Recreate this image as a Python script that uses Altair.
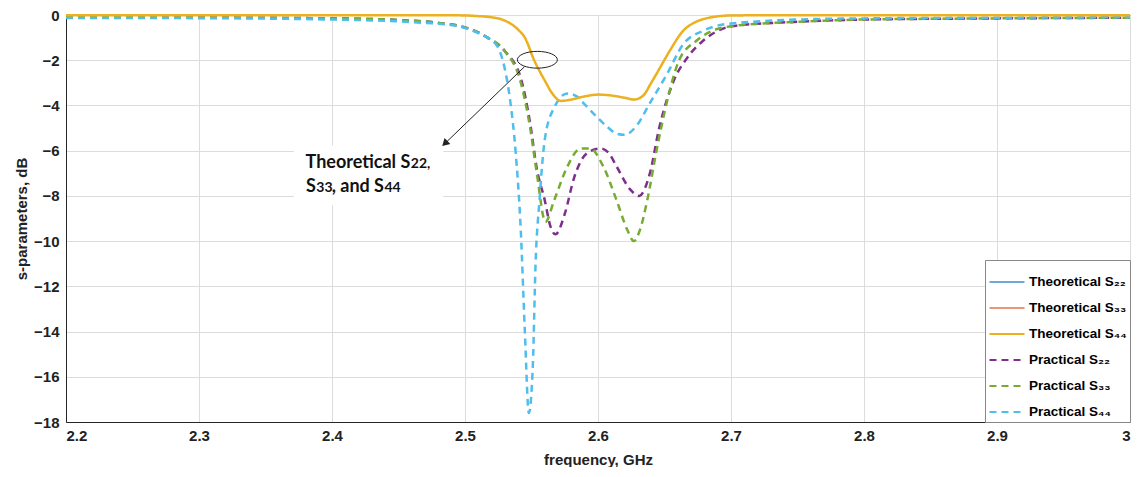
import altair as alt
import pandas as pd

# ---------------- data ----------------
theo_f = [2.2, 2.3, 2.4, 2.45, 2.48, 2.5, 2.51, 2.52, 2.53, 2.54, 2.545, 2.552, 2.56, 2.566,
          2.572, 2.579, 2.59, 2.6, 2.61, 2.62, 2.627, 2.634, 2.64, 2.644, 2.654, 2.664, 2.672,
          2.68, 2.69, 2.7, 2.75, 2.8, 2.9, 3.0]
theo_db = [-0.01, -0.01, -0.01, -0.01, -0.01, -0.02, -0.05, -0.1, -0.25, -0.65, -1.0, -2.0, -2.9, -3.5,
           -3.8, -3.75, -3.6, -3.52, -3.56, -3.66, -3.74, -3.56, -3.0, -2.6, -1.58, -0.7, -0.35,
           -0.17, -0.06, -0.02, -0.01, -0.01, -0.01, -0.01]

p44_f = [2.2, 2.3, 2.35, 2.4, 2.44, 2.47, 2.49, 2.5, 2.51, 2.517, 2.5245, 2.53, 2.534, 2.538, 2.542,
         2.545, 2.548, 2.551, 2.553, 2.556, 2.56, 2.567, 2.577, 2.584, 2.59, 2.599, 2.607, 2.614,
         2.62, 2.629, 2.639, 2.652, 2.664, 2.679, 2.694, 2.7, 2.75, 2.8, 2.9, 3.0]
p44_db = [-0.13, -0.14, -0.16, -0.2, -0.26, -0.35, -0.45, -0.57, -0.8, -1.0, -1.4, -2.4, -3.8, -6.0, -9.6,
          -14.0, -17.6, -15.5, -11.1, -8.2, -5.5, -4.1, -3.47, -3.6, -3.95, -4.5, -4.95, -5.25,
          -5.3, -4.9, -3.9, -2.6, -1.3, -0.7, -0.42, -0.38, -0.2, -0.15, -0.12, -0.1]

p22_f = [2.2, 2.3, 2.4, 2.45, 2.48, 2.5, 2.517, 2.53, 2.542, 2.549, 2.554, 2.56, 2.564, 2.568, 2.575,
         2.582, 2.592, 2.602, 2.608, 2.614, 2.624, 2.631, 2.639, 2.646, 2.657, 2.667, 2.679, 2.694,
         2.7, 2.75, 2.8, 2.9, 3.0]
p22_db = [-0.1, -0.11, -0.15, -0.22, -0.35, -0.55, -1.0, -1.6, -2.8, -4.8, -6.8, -8.2, -9.3, -9.7, -8.8,
          -7.2, -6.1, -5.9, -6.1, -6.7, -7.7, -8.0, -7.0, -5.0, -2.9, -1.9, -1.14, -0.6,
          -0.5, -0.3, -0.2, -0.15, -0.12]

p33_f = [2.2, 2.3, 2.4, 2.45, 2.48, 2.5, 2.517, 2.53, 2.542, 2.549, 2.554, 2.5605, 2.567, 2.577, 2.587,
         2.594, 2.604, 2.614, 2.622, 2.627, 2.631, 2.637, 2.644, 2.652, 2.661, 2.674, 2.689,
         2.7, 2.75, 2.8, 2.9, 3.0]
p33_db = [-0.1, -0.11, -0.15, -0.22, -0.35, -0.55, -1.0, -1.6, -3.0, -5.0, -7.0, -9.15, -8.2, -6.7, -5.9,
          -5.9, -6.7, -8.2, -9.5, -10.0, -9.6, -8.2, -6.0, -3.8, -2.0, -1.14, -0.63,
          -0.5, -0.3, -0.2, -0.15, -0.12]

series_names = ["Theoretical S₂₂", "Theoretical S₃₃", "Theoretical S₄₄",
                "Practical S₂₂", "Practical S₃₃", "Practical S₄₄"]
series_colors = ["#6FA8DC", "#E8967A", "#EDB120", "#7E2F8E", "#77AC30", "#4DBEEE"]
series_dash = [[1, 0], [1, 0], [1, 0], [7, 5], [7, 5], [7, 5]]
series_width = [1.2, 1.2, 2.5, 2.5, 2.5, 2.5]

x_ticks = [2.2, 2.3, 2.4, 2.5, 2.6, 2.7, 2.8, 2.9, 3.0]
y_ticks = [0, -2, -4, -6, -8, -10, -12, -14, -16, -18]

# annotation text pieces: big pieces end at an anchor, small digit pieces start there
note_big = ["Theoretical S", "S", ", and S"]
note_small = ["22,", "33", "44"]
note_anchor_f = [2.4589, 2.3878, 2.4391]
note_anchor_db = [-6.78, -7.83, -7.83]

# ---------------- build table ----------------
rows = []
order = [(0, theo_f, theo_db), (1, theo_f, theo_db), (3, p22_f, p22_db),
         (4, p33_f, p33_db), (5, p44_f, p44_db), (2, theo_f, theo_db)]
for idx, fs, dbs in order:
    for f, d in zip(fs, dbs):
        rows.append({"f": f, "db": d, "series": series_names[idx], "w": series_width[idx]})
df = pd.DataFrame(rows)

xscale = alt.Scale(domain=[2.2, 3.0], nice=False, zero=False)
yscale = alt.Scale(domain=[-18, 0], nice=False, zero=False)

FONT = "Liberation Sans"

lines = alt.Chart(df).mark_line(interpolate="monotone").encode(
    x=alt.X("f:Q", scale=xscale,
            axis=alt.Axis(title="frequency, GHz", values=x_ticks,
                          labelExpr="datum.value == 3 ? '3' : format(datum.value, '.1f')")),
    y=alt.Y("db:Q", scale=yscale,
            axis=alt.Axis(title="s-parameters, dB", values=y_ticks,
                          labelExpr="replace(datum.label, '-', '−')")),
    color=alt.Color("series:N", sort=series_names,
                    scale=alt.Scale(domain=series_names, range=series_colors),
                    legend=alt.Legend(title=None, orient="bottom-right", offset=0,
                                      symbolType="stroke", symbolSize=1225,
                                      symbolStrokeWidth=2.2,
                                      labelFontSize=13.5, labelFontWeight="bold",
                                      labelFont=FONT, labelColor="#000",
                                      rowPadding=0, padding=3, labelLimit=0, labelOffset=3,
                                      fillColor="white", strokeColor="#888")),
    strokeDash=alt.StrokeDash("series:N", sort=series_names,
                              scale=alt.Scale(domain=series_names, range=series_dash)),
    strokeWidth=alt.StrokeWidth("w:Q", scale=None),
)

# annotation: ellipse, arrow, text box
ell_df = pd.DataFrame({"f": [2.5544], "db": [-1.98]})
ellipse = alt.Chart(ell_df).mark_point(
    shape="M -1 0 A 1 0.42 0 1 0 1 0 A 1 0.42 0 1 0 -1 0",
    size=1600, stroke="#222", strokeWidth=1, filled=False, opacity=1
).encode(x=alt.X("f:Q", scale=xscale), y=alt.Y("db:Q", scale=yscale))

arr_df = pd.DataFrame({"f": [2.5447], "db": [-2.29], "f2": [2.4855], "db2": [-5.65]})
arrow = alt.Chart(arr_df).mark_rule(color="#222", strokeWidth=1).encode(
    x=alt.X("f:Q", scale=xscale), y=alt.Y("db:Q", scale=yscale), x2="f2:Q", y2="db2:Q")
head = alt.Chart(arr_df).mark_point(shape="triangle", size=70, filled=True, color="#222",
                                    angle=226, opacity=1).encode(
    x=alt.X("f2:Q", scale=xscale), y=alt.Y("db2:Q", scale=yscale))

box_df = pd.DataFrame({"f": [2.3713], "f2": [2.4836], "db": [-5.77], "db2": [-8.41]})
box = alt.Chart(box_df).mark_rect(color="white", opacity=1).encode(
    x=alt.X("f:Q", scale=xscale), x2="f2:Q", y=alt.Y("db:Q", scale=yscale), y2="db2:Q")

txt_df = pd.DataFrame({"f": note_anchor_f, "db": note_anchor_db,
                       "big": note_big, "small": note_small})
txt_big = alt.Chart(txt_df).mark_text(align="right", baseline="alphabetic", font="Lato",
                                      fontSize=18, fontWeight="bold", color="#111").encode(
    x=alt.X("f:Q", scale=xscale), y=alt.Y("db:Q", scale=yscale), text="big:N")
txt_small = alt.Chart(txt_df).mark_text(align="left", baseline="alphabetic", font="Lato",
                                        fontSize=14, fontWeight="bold", color="#111", dx=0.5).encode(
    x=alt.X("f:Q", scale=xscale), y=alt.Y("db:Q", scale=yscale), text="small:N")

chart = alt.layer(box, lines, ellipse, arrow, head, txt_big, txt_small).properties(
    width=1064, height=407, padding={"left": 6, "top": 0, "right": 0, "bottom": 0}
).configure_view(stroke="#262626", strokeWidth=1).configure_axis(
    grid=True, gridColor="#DCDCDC", gridWidth=1, ticks=False,
    domainColor="#262626", labelFont=FONT, labelFontSize=15, labelFontWeight="bold",
    labelColor="#222", titleFont=FONT, titleFontSize=15, titleFontWeight="bold",
    titleColor="#222"
).configure_axisY(titlePadding=4, labelPadding=7).configure_axisX(titlePadding=9, labelPadding=6)

chart.save("out.html", embed_options={"renderer": "svg", "actions": False})
